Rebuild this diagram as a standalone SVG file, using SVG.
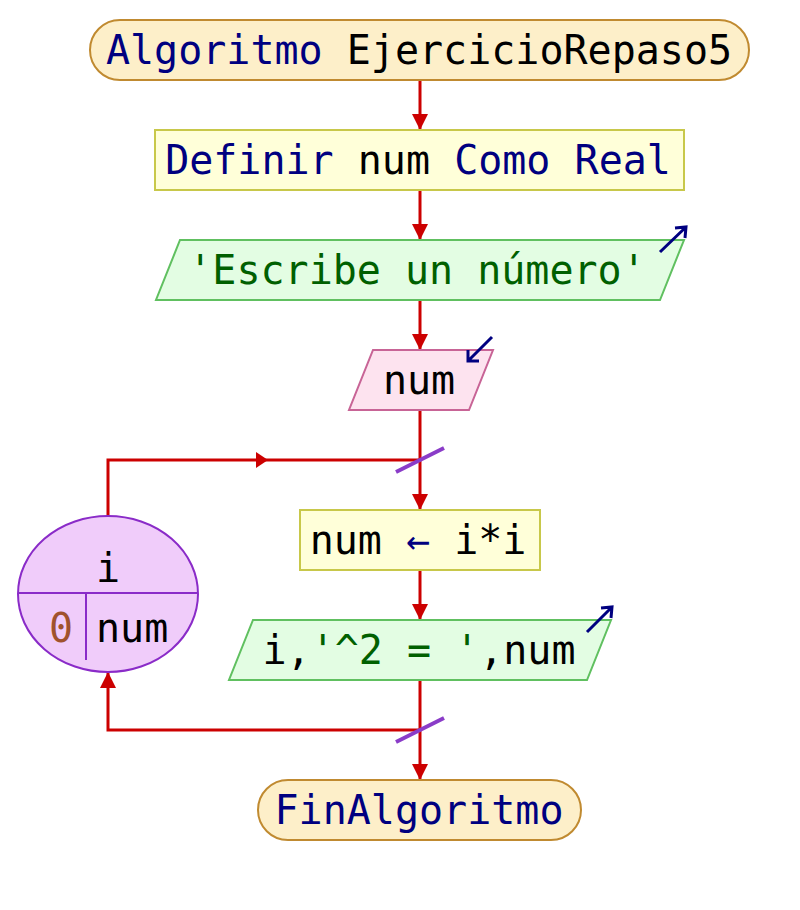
<svg xmlns="http://www.w3.org/2000/svg" width="800" height="910" viewBox="0 0 800 910">
<defs>
<style>
text{font-family:"DejaVu Sans Mono","Liberation Mono",monospace;font-size:40px;fill:#000}
.kw{fill:#000080}
.st{fill:#006000}
.num{fill:#a0522d}
.term{fill:#fdefc9;stroke:#c08a30;stroke-width:2}
.proc{fill:#ffffd9;stroke:#c8c84a;stroke-width:2}
.out{fill:#e3fde3;stroke:#60c060;stroke-width:2}
.in{fill:#fde3ef;stroke:#c86496;stroke-width:2}
.loop{fill:#f0ccfa;stroke:#8a2bc8;stroke-width:2}
.edge{fill:none;stroke:#cc0000;stroke-width:3}
.slash{stroke:#8a3cc8;stroke-width:4}
.io{fill:none;stroke:#000080;stroke-width:3}
</style>
<marker id="ah" viewBox="0 0 10 10" refX="10" refY="5" markerWidth="16" markerHeight="16" markerUnits="userSpaceOnUse" orient="auto">
<path d="M0,0 L10,5 L0,10 z" fill="#cc0000"/>
</marker>
</defs>
<g id="connectors">
<line class="edge" x1="420" y1="80" x2="420" y2="130" marker-end="url(#ah)"/>
<line class="edge" x1="420" y1="190" x2="420" y2="240" marker-end="url(#ah)"/>
<line class="edge" x1="420" y1="300" x2="420" y2="350" marker-end="url(#ah)"/>
<line class="edge" x1="420" y1="410" x2="420" y2="510" marker-end="url(#ah)"/>
<polyline class="edge" points="108,516 108,460 420,460"/>
<polygon points="256,452 268,460 256,468" fill="#cc0000"/>
<line class="edge" x1="420" y1="570" x2="420" y2="620" marker-end="url(#ah)"/>
<line class="edge" x1="420" y1="680" x2="420" y2="780" marker-end="url(#ah)"/>
<polyline class="edge" points="420,730 108,730 108,672" marker-end="url(#ah)"/>
<line class="slash" x1="396" y1="472" x2="444" y2="448"/>
<line class="slash" x1="396" y1="742" x2="444" y2="718"/>
</g>
<g id="start">
<rect class="term" x="90" y="20" width="659" height="60" rx="30" ry="30"/>
<text x="419" y="64" text-anchor="middle"><tspan class="kw">Algoritmo</tspan> EjercicioRepaso5</text>
</g>
<g id="define">
<rect class="proc" x="155" y="130" width="529" height="60"/>
<text x="418" y="174" text-anchor="middle"><tspan class="kw">Definir</tspan> num <tspan class="kw">Como</tspan> <tspan class="kw">Real</tspan></text>
</g>
<g id="output1">
<polygon class="out" points="180,240 684,240 660,300 156,300"/>
<text class="st" x="417" y="284" text-anchor="middle">'Escribe un número'</text>
<path class="io" d="M660,252 L686,227 M675,228 L686,227 L685,238"/>
</g>
<g id="input">
<polygon class="in" points="373,350 493,350 469,410 349,410"/>
<text x="419" y="394" text-anchor="middle">num</text>
<path class="io" d="M492,337 L468,361 M468,350 L468,361 L479,361"/>
</g>
<g id="loop">
<ellipse class="loop" cx="108" cy="594" rx="90" ry="78"/>
<line x1="18" y1="593" x2="198" y2="593" stroke="#8a2bc8" stroke-width="2"/>
<line x1="86" y1="593" x2="86" y2="660" stroke="#8a2bc8" stroke-width="2"/>
<text x="108" y="582" text-anchor="middle">i</text>
<text class="num" x="61" y="642" text-anchor="middle">0</text>
<text x="96" y="642">num</text>
</g>
<g id="assign">
<rect class="proc" x="300" y="510" width="240" height="60"/>
<text x="418" y="554" text-anchor="middle">num <tspan class="kw">←</tspan> i*i</text>
</g>
<g id="output2">
<polygon class="out" points="253,620 611,620 587,680 229,680"/>
<text x="419" y="664" text-anchor="middle">i,<tspan class="st">'^2 = '</tspan>,num</text>
<path class="io" d="M587,632 L612,607 M601,608 L612,607 L611,618"/>
</g>
<g id="end">
<rect class="term" x="258" y="780" width="323" height="60" rx="30" ry="30"/>
<text class="kw" x="419" y="824" text-anchor="middle">FinAlgoritmo</text>
</g>
</svg>
